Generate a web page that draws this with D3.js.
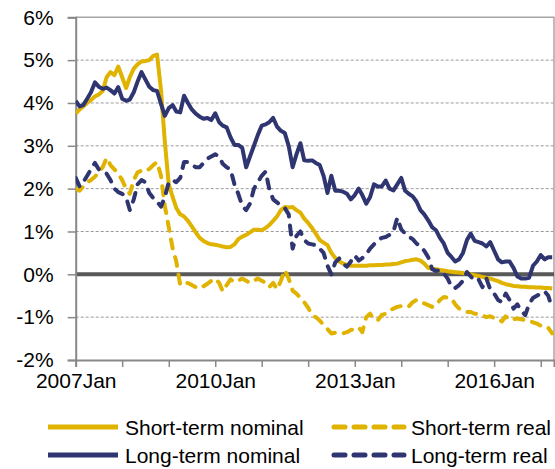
<!DOCTYPE html>
<html>
<head>
<meta charset="utf-8">
<script src="https://cdn.jsdelivr.net/npm/d3@7.9.0/dist/d3.min.js"></script>
<style>
  html, body { margin: 0; padding: 0; background: #fff; }
  svg { display: block; font-family: "Liberation Sans", Arial, sans-serif; }
</style>
</head>
<body>
<svg id="chart" width="555" height="469"></svg>
<script>
// monthly values, first entry = 2007 Jan
const shortNominal = [
  3.75, 3.85, 3.92, 4.0, 4.07, 4.15, 4.2, 4.28, 4.6, 4.72, 4.65, 4.85,
  4.6, 4.35, 4.6, 4.8, 4.9, 4.97, 4.98, 5.0, 5.1, 5.13, 4.3, 3.1,
  2.1, 1.8, 1.55, 1.4, 1.35, 1.25, 1.12, 0.98, 0.85, 0.78, 0.73, 0.7,
  0.69, 0.67, 0.65, 0.63, 0.64, 0.7, 0.82, 0.88, 0.92, 0.98, 1.04, 1.04,
  1.03, 1.08, 1.15, 1.25, 1.35, 1.5, 1.57, 1.56, 1.57, 1.5, 1.44, 1.3,
  1.2, 1.08, 0.95, 0.8, 0.74, 0.68, 0.5, 0.38, 0.3, 0.25, 0.22, 0.2,
  0.2, 0.2, 0.2, 0.2, 0.21, 0.21, 0.22, 0.22, 0.23, 0.23, 0.24, 0.25,
  0.28, 0.31, 0.32, 0.34, 0.35, 0.32, 0.25, 0.15, 0.13, 0.12, 0.1, 0.09,
  0.07, 0.06, 0.05, 0.04, 0.03, 0.01, 0.0, -0.02, -0.04, -0.06, -0.08, -0.1,
  -0.13, -0.16, -0.2, -0.23, -0.25, -0.27, -0.28, -0.29, -0.29, -0.3, -0.3, -0.31,
  -0.31, -0.32, -0.32, -0.33
];
const shortReal = [
  2.0, 1.95, 2.05, 2.15, 2.2, 2.28, 2.38, 2.5, 2.72, 2.55, 2.45, 2.35,
  2.2, 2.0, 1.88, 2.2, 2.38, 2.42, 2.4, 2.46, 2.55, 2.62, 2.3, 1.6,
  1.1, 0.6, 0.3, -0.25, -0.22, -0.2, -0.25, -0.3, -0.33, -0.28, -0.22, -0.15,
  -0.1, -0.2, -0.4, -0.25, -0.12, -0.18, -0.15, -0.1, -0.15, -0.2, -0.15, -0.1,
  -0.15, -0.2, -0.3, -0.2, -0.35, -0.15, 0.1, -0.1, -0.38, -0.45, -0.55, -0.65,
  -0.78, -0.95, -1.0, -1.08, -1.18, -1.28, -1.38, -1.36, -1.38, -1.38, -1.35, -1.3,
  -1.28, -1.24, -1.35, -1.0, -0.92, -1.05, -1.07, -0.95, -0.92, -0.85, -0.8, -0.76,
  -0.74, -0.72, -0.75, -0.65, -0.6, -0.62, -0.68, -0.72, -0.76, -0.72, -0.6, -0.53,
  -0.55, -0.57, -0.7, -0.8, -0.85, -0.88, -0.88, -0.92, -0.92, -0.96, -1.0, -0.98,
  -1.02, -1.03, -1.1, -0.98, -1.07, -1.05, -1.03, -1.05, -1.07, -1.08, -1.12, -1.15,
  -1.2, -1.2, -1.25, -1.38
];
const longNominal = [
  4.05, 3.92, 3.95, 4.1, 4.25, 4.48, 4.38, 4.33, 4.36, 4.3, 4.22, 4.37,
  4.1, 4.05, 4.08, 4.25, 4.5, 4.72, 4.55, 4.38, 4.3, 4.28, 3.98, 3.7,
  3.88, 3.95, 3.8, 3.78, 4.17, 4.0, 3.85, 3.75, 3.68, 3.63, 3.65, 3.6,
  3.76, 3.55, 3.47, 3.43, 3.2, 3.02, 3.02, 2.95, 2.5, 2.75, 3.0, 3.25,
  3.47, 3.5, 3.55, 3.65, 3.45, 3.35, 3.3, 3.0, 2.5, 2.8, 3.06, 2.66,
  2.65, 2.66, 2.6, 2.55, 2.3, 1.9, 2.3, 1.95, 1.95, 1.93, 1.88, 1.75,
  1.85, 2.0, 1.85, 1.65, 1.8, 2.1, 2.05, 2.05, 2.19, 2.0, 1.96, 2.1,
  2.25, 1.95, 1.88, 1.82, 1.7, 1.5, 1.4, 1.26, 1.1, 1.03, 0.85, 0.72,
  0.5, 0.4, 0.3, 0.35, 0.5, 0.8, 0.95, 0.78, 0.75, 0.72, 0.65, 0.75,
  0.55, 0.35, 0.28, 0.3, 0.3, 0.15, -0.05, -0.1, -0.1, -0.08, 0.2, 0.3,
  0.45, 0.35, 0.4, 0.4
];
const longReal = [
  2.25, 2.05, 2.15, 2.3, 2.45, 2.6, 2.45, 2.4, 2.35, 2.2, 2.0, 1.92,
  1.88, 1.8, 1.5, 1.75, 2.1, 2.2, 2.15, 1.9, 1.78, 1.7, 1.58, 1.8,
  2.15, 2.2, 2.15, 2.25, 2.62, 2.62, 2.55, 2.5, 2.5, 2.6, 2.7, 2.75,
  2.8, 2.75, 2.58, 2.5, 2.45, 2.1, 1.88, 1.6, 1.5, 1.65, 2.0, 2.15,
  2.3, 2.4, 2.0, 1.75, 1.68, 1.6, 1.55, 1.4, 0.6, 0.9, 1.0, 0.8,
  0.72, 0.7, 0.68, 0.6, 0.5, 0.2, 0.0, 0.28, 0.37, 0.25, 0.18, 0.3,
  0.44, 0.32, 0.38, 0.47, 0.6, 0.7, 0.8, 0.85, 0.87, 0.92, 1.0, 1.32,
  1.05, 0.95, 0.88, 0.82, 0.72, 0.65, 0.55, 0.4, 0.12, 0.08, 0.1, 0.02,
  -0.1, -0.3, -0.32, -0.25, -0.15, 0.05, -0.05, -0.15, -0.12, -0.3, -0.1, -0.35,
  -0.45, -0.6, -0.65, -0.45, -0.6, -0.8, -0.7, -0.85, -0.95, -0.7, -0.55, -0.5,
  -0.45, -0.4, -0.5, -0.8
];

const seriesNames = ['Short-term nominal', 'Short-term real', 'Long-term nominal', 'Long-term real'];
const yTicks = [-2, -1, 0, 1, 2, 3, 4, 5, 6];
const labelYears = [2007, 2010, 2013, 2016];

const yellow = '#DFB300';
const navy = '#2E3571';

const series = [
  { name: seriesNames[0], values: shortNominal, color: yellow, dash: null },
  { name: seriesNames[1], values: shortReal, color: yellow, dash: '9,9' },
  { name: seriesNames[2], values: longNominal, color: navy, dash: null },
  { name: seriesNames[3], values: longReal, color: navy, dash: '9,9' },
];

const svg = d3.select('#chart');
const plotLeft = 75.7, plotRight = 554, plotTop = 17.3, plotBottom = 360;

const x = d3.scaleTime()
  .domain([new Date(2007, 0, 1), new Date(2017, 3, 15)])
  .range([plotLeft, plotRight]);
const y = d3.scaleLinear().domain([-2, 6]).range([plotBottom, plotTop]);

const monthDate = (i) => new Date(2007, i, 1);

// dotted gridlines
svg.append('g')
  .selectAll('line')
  .data(yTicks.filter((d) => d !== 0 && d !== -2 && d !== 6))
  .join('line')
  .attr('x1', plotLeft).attr('x2', plotRight)
  .attr('y1', (d) => y(d)).attr('y2', (d) => y(d))
  .attr('stroke', '#9a9a9a')
  .attr('stroke-width', 1)
  .attr('stroke-dasharray', '3,2');

// plot border (top and right)
svg.append('path')
  .attr('d', `M${plotLeft},${y(6)}H${plotRight}V${plotBottom}`)
  .attr('fill', 'none')
  .attr('stroke', '#a6a6a6')
  .attr('stroke-width', 1.5);

// zero line
svg.append('line')
  .attr('x1', plotLeft).attr('x2', plotRight)
  .attr('y1', y(0)).attr('y2', y(0))
  .attr('stroke', '#595959')
  .attr('stroke-width', 4);

// y axis
const yAxis = svg.append('g')
  .attr('transform', `translate(${plotLeft},0)`)
  .call(d3.axisLeft(y).tickValues(yTicks).tickSize(8).tickPadding(14).tickFormat((d) => `${d}%`));
yAxis.select('.domain').attr('stroke', '#888').attr('stroke-width', 2);
yAxis.selectAll('.tick line').attr('stroke', '#888').attr('stroke-width', 1.5);
yAxis.selectAll('text').attr('font-size', 21).attr('fill', '#000')
  .attr('font-family', '"Liberation Sans", Arial, sans-serif');

// x axis
const xAxis = svg.append('g')
  .attr('transform', `translate(0,${plotBottom})`)
  .call(d3.axisBottom(x).ticks(d3.timeYear.every(1)).tickSize(7).tickPadding(6)
    .tickFormat((d) => labelYears.includes(d.getFullYear()) ? `${d.getFullYear()}Jan` : ''));
xAxis.select('.domain').attr('stroke', '#888').attr('stroke-width', 2);
xAxis.selectAll('.tick line').attr('stroke', '#888').attr('stroke-width', 1.5);
xAxis.selectAll('text').attr('font-size', 21).attr('fill', '#000')
  .attr('font-family', '"Liberation Sans", Arial, sans-serif');

// lines
const line = d3.line()
  .x((d, i) => x(monthDate(i)))
  .y((d) => y(d));

svg.append('defs').append('clipPath').attr('id', 'clip')
  .append('rect').attr('x', plotLeft).attr('y', 0).attr('width', plotRight - plotLeft).attr('height', plotBottom);

svg.append('g').attr('clip-path', 'url(#clip)')
  .selectAll('path')
  .data(series)
  .join('path')
  .attr('d', (s) => line(s.values))
  .attr('fill', 'none')
  .attr('stroke', (s) => s.color)
  .attr('stroke-width', 4)
  .attr('stroke-linejoin', 'round')
  .attr('stroke-linecap', (s) => (s.dash ? 'round' : 'butt'))
  .attr('stroke-dasharray', (s) => s.dash);

// legend
const legendCols = [48, 334];
const legendRows = [427, 455];
const legend = svg.append('g');
series.forEach((s, i) => {
  const lx = legendCols[i % 2];
  const ly = legendRows[Math.floor(i / 2)];
  legend.append('line')
    .attr('x1', lx).attr('x2', lx + 70)
    .attr('y1', ly).attr('y2', ly)
    .attr('stroke', s.color)
    .attr('stroke-width', 5)
    .attr('stroke-linecap', s.dash ? 'round' : 'butt')
    .attr('stroke-dasharray', s.dash ? '11,9' : null);
  legend.append('text')
    .attr('x', lx + 77)
    .attr('y', ly + 7.5)
    .attr('font-size', 21)
    .attr('fill', '#000')
    .text(s.name);
});
</script>
</body>
</html>
